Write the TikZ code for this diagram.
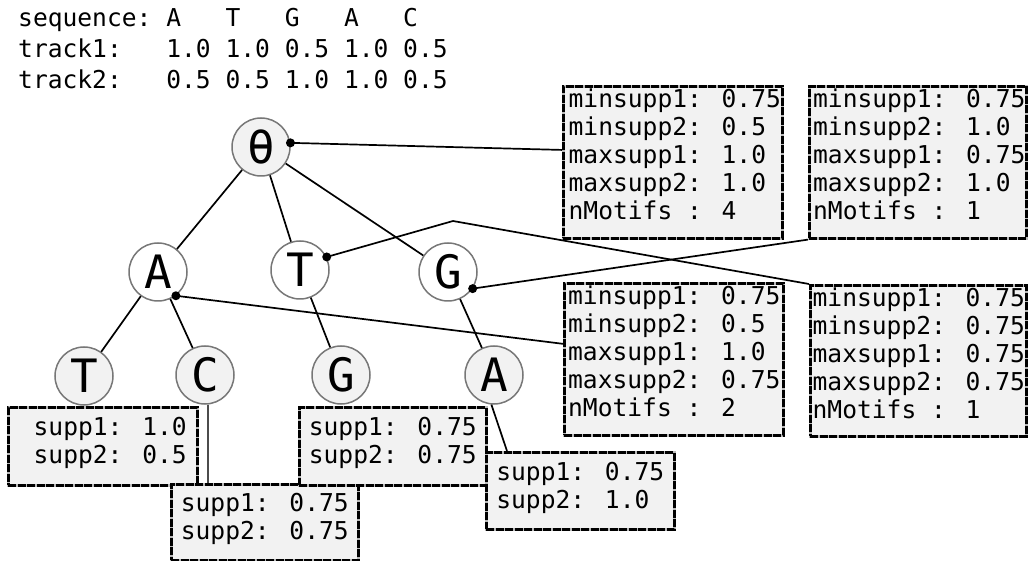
\documentclass[tikz,border=0pt]{standalone}
\usepackage{fontspec}
\usetikzlibrary{calc}
\setmonofont{DejaVu Sans Mono}
\newfontfamily\dvm{DejaVu Sans Mono}
\definecolor{boxfill}{HTML}{F2F2F2}
\definecolor{ringcol}{HTML}{777777}
\newcommand\liftup[3]{\hspace*{#2}\raisebox{#1}[\height][\depth]{\begin{tabular}{@{}l@{}}#3\end{tabular}}}
\begin{document}
\begin{tikzpicture}[x=1pt,y=-1pt,
  txt/.style={font=\dvm\fontsize{24.6}{28}\selectfont, inner sep=0pt},
  infobox/.style={txt, draw=gray!55, fill=boxfill, line width=2.6pt,
     anchor=north west, inner ysep=0pt,
     postaction={draw=black, line width=2.6pt, dash pattern=on 8pt off 1.5pt}},
  tnode/.style={circle, draw=ringcol, line width=1.5pt, minimum size=58pt, inner sep=0pt,
     font=\dvm\fontsize{46}{46}\selectfont},
  wnode/.style={tnode, fill=white},
  gnode/.style={tnode, fill=boxfill},
  edge/.style={black, line width=1.7pt},
  conn/.style={black, line width=1.7pt},
  dotc/.style={black}]
\useasboundingbox (0,0) rectangle (1029,561);

% header text
\node[txt, anchor=base west, align=left, font=\dvm\fontsize{24.6}{31}\selectfont] (hdr) at (18,89)
  {sequence:~A~~~T~~~G~~~A~~~C\\track1:~~~1.0~1.0~0.5~1.0~0.5\\track2:~~~0.5~0.5~1.0~1.0~0.5};

% tree nodes
\node[gnode] (theta) at (261,147) {θ};
\node[wnode] (A) at (158,272) {A};
\node[wnode] (T) at (300,270) {T};
\node[wnode] (G) at (448,272) {G};
\node[gnode] (AT) at (84,376) {T};
\node[gnode] (AC) at (205,375) {C};
\node[gnode] (TG) at (341,375) {G};
\node[gnode] (GA) at (494,375) {A};

% tree edges
\draw[edge] (theta) -- (A);
\draw[edge] (theta) -- (T);
\draw[edge] (theta) -- (G);
\draw[edge] (A) -- (AT);
\draw[edge] (A) -- (AC);
\draw[edge] (T) -- (TG);
\draw[edge] (G) -- (GA);

% summary boxes
\node[infobox, minimum width=219pt, minimum height=152pt] (b1) at (562,85)
  {\liftup{4pt}{4pt}{minsupp1: 0.75\\minsupp2: 0.5~~\\maxsupp1: 1.0~~\\maxsupp2: 1.0~~\\nMotifs~: 4~~~}};
\node[infobox, minimum width=217pt, minimum height=152pt] (b2) at (808,85)
  {\liftup{4pt}{3pt}{minsupp1: 0.75\\minsupp2: 1.0~~\\maxsupp1: 0.75\\maxsupp2: 1.0~~\\nMotifs~: 1~~~}};
\node[infobox, minimum width=219pt, minimum height=152pt] (b3) at (563,282)
  {\liftup{4pt}{1pt}{minsupp1: 0.75\\minsupp2: 0.5~~\\maxsupp1: 1.0~~\\maxsupp2: 0.75\\nMotifs~: 2~~~}};
\node[infobox, minimum width=216pt, minimum height=151pt] (b4) at (809,284)
  {\liftup{4pt}{1pt}{minsupp1: 0.75\\minsupp2: 0.75\\maxsupp1: 0.75\\maxsupp2: 0.75\\nMotifs~: 1~~~}};

% leaf boxes
\node[infobox, minimum width=189pt, minimum height=78pt] (lT) at (7,406)
  {\liftup{2pt}{0pt}{~supp1: 1.0\\~supp2: 0.5}};
\node[infobox, minimum width=187pt, minimum height=76pt] (lC) at (170,483)
  {\liftup{2pt}{0pt}{supp1: 0.75\\supp2: 0.75}};
\node[infobox, minimum width=187pt, minimum height=78pt] (lG) at (298,406)
  {\liftup{2pt}{0pt}{supp1: 0.75\\supp2: 0.75}};
\node[infobox, minimum width=188pt, minimum height=77pt] (lA) at (485,451)
  {\liftup{2pt}{0pt}{supp1: 0.75\\supp2: 1.0~}};

% leaf connectors
\draw[gray!60!black, line width=1.2pt] ([xshift=3pt]AC.south) -- ([xshift=3pt]AC.south |- lC.north);
\draw[edge] (GA.-95) -- ([xshift=22pt]lA.north west);

% summary connectors
\coordinate (bend) at (453,221);
\draw[conn] (theta.8) -- ($(b1.north west)!0.42!(b1.south west)$);
\fill[dotc] (theta.8) circle (4.5pt);
\draw[conn] (T.26) -- (bend) -- (b4.north west);
\fill[dotc] (T.26) circle (4.5pt);
\draw[conn] (G.-34) -- (b2.south west);
\fill[dotc] (G.-34) circle (4.5pt);
\draw[conn] (A.-53) -- ($(b3.north west)!0.4!(b3.south west)$);
\fill[dotc] (A.-53) circle (4.5pt);
\end{tikzpicture}
\end{document}
